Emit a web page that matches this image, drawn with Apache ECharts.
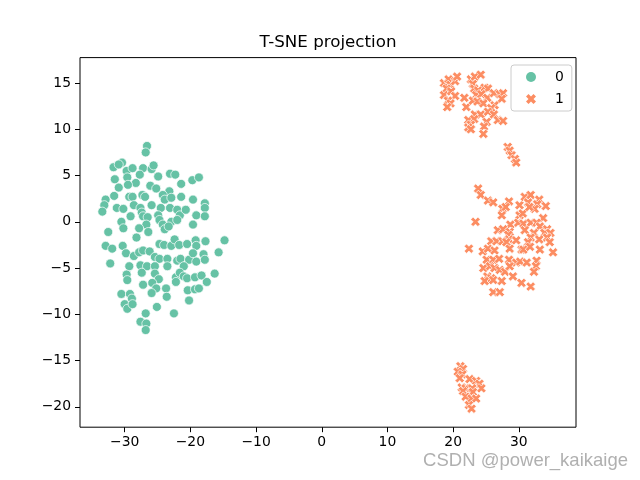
<!DOCTYPE html>
<html>
<head>
<meta charset="utf-8">
<script src="https://cdn.jsdelivr.net/npm/echarts@6/dist/echarts.min.js"></script>
<style>html,body{margin:0;padding:0;background:#fff;}#c{width:640px;height:480px;}</style>
</head>
<body>
<div id="c"></div>
<script>
const titleText = 'T-SNE projection';
const labels = ['0', '1'];
const xTicks = [-30, -20, -10, 0, 10, 20, 30];
const yTicks = [-20, -15, -10, -5, 0, 5, 10, 15];

const class0 = [
[-26.6,8.2],[-26.8,7.5],[-31.7,5.9],[-30.4,6.4],[-30.9,6.2],[-29.7,5.5],[-28.8,5.8],[-27.2,5.8],[-27.7,5.1],[-25.9,5.7],
[-25.6,6.1],[-31.5,4.6],[-29.6,4.8],[-28.3,4.2],[-24.9,4.9],[-23.1,5.2],[-22.3,5.1],[-19.7,4.5],[-18.7,4.8],[-30.9,3.7],
[-29.5,4.0],[-26.1,3.9],[-25.2,3.6],[-23.2,3.3],[-21.4,4.1],[-31.6,2.8],[-29.3,2.7],[-28.8,2.7],[-27.3,2.9],[-26.9,2.7],
[-24.2,2.9],[-23.9,2.4],[-22.9,2.6],[-21.4,2.7],[-19.6,2.4],[-17.8,2.0],[-32.9,2.4],[-33.1,1.8],[-33.4,1.1],[-31.2,1.5],
[-30.2,1.4],[-28.6,1.8],[-27.6,1.5],[-27.4,1.0],[-25.9,1.8],[-24.5,1.5],[-23.1,1.5],[-22.0,1.3],[-21.6,0.7],[-20.7,1.3],
[-19.1,0.7],[-17.8,1.5],[-17.8,0.6],[-30.5,0.0],[-29.1,0.6],[-27.2,0.6],[-26.5,0.5],[-24.9,0.7],[-24.7,0.2],[-26.7,-0.3],
[-24.2,-0.3],[-22.9,0.0],[-22.0,0.2],[-19.6,-0.3],[-32.5,-1.1],[-30.2,-0.7],[-27.8,-0.7],[-26.4,-1.1],[-23.9,-0.8],[-23.3,-0.5],
[-32.9,-2.6],[-31.9,-2.9],[-30.3,-2.6],[-28.2,-1.7],[-24.7,-2.4],[-24.0,-2.5],[-22.9,-2.6],[-22.4,-1.9],[-21.7,-2.5],[-20.5,-2.4],
[-19.2,-2.0],[-19.1,-2.6],[-17.7,-2.1],[-14.8,-2.0],[-29.8,-3.4],[-28.6,-3.7],[-27.8,-3.3],[-27.2,-3.1],[-26.2,-3.2],[-25.4,-3.8],
[-24.7,-4.0],[-23.5,-4.0],[-22.0,-4.2],[-21.5,-4.0],[-20.2,-4.1],[-19.6,-3.4],[-19.1,-4.3],[-18.0,-3.5],[-17.8,-4.1],[-15.7,-3.3],
[-32.2,-4.5],[-29.3,-4.8],[-27.6,-4.7],[-26.6,-4.8],[-25.4,-4.8],[-23.5,-4.8],[-21.0,-4.8],[-29.7,-5.7],[-27.4,-5.5],[-25.4,-5.6],
[-24.8,-6.2],[-22.2,-6.0],[-21.6,-5.5],[-21.0,-5.9],[-20.5,-6.1],[-19.3,-6.0],[-18.3,-5.8],[-17.5,-6.5],[-16.3,-5.6],[-29.6,-6.3],
[-27.2,-6.8],[-25.8,-6.6],[-25.2,-7.2],[-23.7,-7.2],[-22.2,-6.5],[-30.5,-7.8],[-29.2,-7.8],[-28.9,-8.3],[-25.9,-7.7],[-23.6,-8.1],
[-20.4,-7.4],[-19.3,-7.3],[-18.7,-7.2],[-20.2,-8.5],[-30.0,-8.9],[-29.6,-9.4],[-28.8,-8.9],[-25.1,-9.2],[-22.5,-9.9],[-26.8,-9.9],
[-27.6,-10.8],[-26.7,-11.0],[-26.8,-11.7]
];

const class1 = [
[18.6,15.0],[19.3,15.4],[19.6,14.8],[20.3,15.2],[20.6,15.7],[19.0,14.4],[18.6,13.7],[19.7,14.1],[20.3,13.6],[19.2,13.1],
[19.6,12.8],[19.1,12.4],[21.7,13.4],[22.0,12.4],[22.7,15.4],[23.3,15.7],[24.2,15.9],[23.0,14.9],[23.2,14.4],[23.8,14.2],
[24.8,14.5],[25.3,14.4],[23.5,13.7],[24.3,13.8],[25.2,13.4],[26.2,13.9],[27.1,13.8],[27.6,13.9],[27.4,13.3],[23.0,13.1],
[23.7,13.0],[24.6,12.8],[26.3,12.6],[25.8,12.3],[23.3,11.6],[24.2,11.6],[25.3,11.9],[26.2,11.6],[22.3,11.0],[23.2,11.1],
[22.7,10.5],[25.1,10.8],[24.7,10.3],[26.8,11.0],[27.6,10.9],[22.3,10.2],[22.7,10.0],[24.6,9.5],[28.3,8.1],[28.6,7.7],
[28.9,7.2],[29.4,6.8],[29.6,6.4],
[23.8,3.6],[24.2,2.9],[25.3,2.3],[26.1,2.1],[28.5,2.2],[30.1,1.8],[30.9,2.7],[31.8,2.9],[33.1,2.4],[32.8,1.9],
[34.1,1.7],[31.4,2.1],[27.5,1.4],[28.0,1.6],[27.4,0.7],[30.1,0.7],[30.6,0.9],[32.4,1.4],[31.6,1.6],[33.7,0.4],
[23.4,0.0],[28.7,-0.3],[29.9,-0.1],[30.7,-0.2],[31.8,-0.1],[32.7,-0.1],[33.2,-0.5],[34.3,-0.8],[26.8,-0.9],[27.6,-0.8],
[28.6,-1.1],[30.9,-0.9],[28.4,-1.4],[32.3,-1.2],[33.9,-1.2],[34.8,-1.2],[28.5,-1.9],[31.8,-1.7],[33.1,-1.9],[34.3,-1.7],
[25.8,-2.1],[26.6,-2.1],[27.5,-2.1],[28.1,-2.2],[29.6,-2.0],[31.4,-2.2],[34.7,-2.2],[22.4,-2.9],[24.5,-3.2],[25.3,-2.9],
[26.3,-3.1],[28.6,-2.9],[30.4,-3.0],[30.7,-3.0],[31.7,-2.7],[33.2,-3.0],[35.2,-3.3],[25.1,-4.1],[26.1,-4.1],[27.0,-4.0],
[28.5,-4.1],[29.6,-4.4],[30.2,-4.3],[31.2,-4.4],[32.7,-4.2],[32.6,-4.8],[24.6,-5.0],[25.6,-4.8],[26.3,-5.0],[27.1,-5.2],
[27.9,-5.4],[28.6,-4.8],[32.3,-5.4],[25.2,-5.9],[25.8,-6.1],[24.8,-6.4],[26.1,-6.3],[27.4,-6.4],[29.1,-5.9],[30.4,-6.6],
[31.8,-7.0],[26.1,-7.6],[27.1,-7.6],
[21.1,-15.6],[21.5,-15.9],[20.7,-16.2],[21.4,-16.5],[21.0,-16.9],[22.5,-17.0],[23.5,-17.2],[24.0,-17.5],[21.3,-17.9],[21.9,-18.0],
[21.5,-18.3],[22.9,-18.0],[24.3,-18.0],[23.0,-18.4],[21.9,-18.9],[22.8,-19.1],[23.5,-19.1],[22.4,-19.8],[22.8,-20.2]
];

const colors = ['#66c2a5', '#fc8d62'];
const xSymbol = 'path://M2.5,0 L5,2.5 L7.5,0 L10,2.5 L7.5,5 L10,7.5 L7.5,10 L5,7.5 L2.5,10 L0,7.5 L2.5,5 L0,2.5 Z';
const fontMain = 'DejaVu Sans';
const fmt = v => String(v).replace('-', '\u2212');

const chart = echarts.init(document.getElementById('c'), null, {renderer: 'canvas'});
chart.setOption({
  animation: false,
  backgroundColor: '#fff',
  graphic: [
    {type: 'text', x: 328, y: 43, style: {text: titleText, textAlign: 'center', textVerticalAlign: 'middle', font: '16.7px "DejaVu Sans"', fill: '#000'}},
    {type: 'text', x: 628, y: 461, style: {text: 'CSDN @power_kaikaige', textAlign: 'right', textVerticalAlign: 'middle', font: '18.5px "Liberation Sans Narrow", "Liberation Sans", sans-serif', fill: '#b0b0b0'}}
  ],
  grid: {left: 80, right: 64, top: 57.6, bottom: 52.8, show: true, borderColor: '#000', borderWidth: 1, backgroundColor: 'transparent'},
  legend: {
    orient: 'vertical', left: 511, top: 65,
    padding: [5, 8, 5, 15], itemGap: 8, itemWidth: 10, itemHeight: 10,
    borderColor: '#cccccc', borderWidth: 1, borderRadius: 3, backgroundColor: 'rgba(255,255,255,0.8)',
    itemStyle: {borderWidth: 0},
    textStyle: {fontFamily: fontMain, fontSize: 13.9, color: '#000', padding: [0, 0, 0, 14]},
    data: [{name: labels[0], icon: 'circle'}, {name: labels[1], icon: xSymbol}]
  },
  xAxis: {
    type: 'value', min: -36.8, max: 38.7,
    axisLine: {show: false, onZero: false},
    splitLine: {show: false},
    axisTick: {show: true, length: 5, lineStyle: {color: '#000'}, customValues: xTicks},
    axisLabel: {customValues: xTicks, formatter: fmt, fontFamily: fontMain, fontSize: 13.9, color: '#000', margin: 8}
  },
  yAxis: {
    type: 'value', min: -22.2, max: 17.75,
    axisLine: {show: false, onZero: false},
    splitLine: {show: false},
    axisTick: {show: true, length: 5, lineStyle: {color: '#000'}, customValues: yTicks},
    axisLabel: {customValues: yTicks, formatter: fmt, fontFamily: fontMain, fontSize: 13.9, color: '#000', margin: 9}
  },
  series: [
    {name: labels[0], type: 'scatter', data: class0, symbol: 'circle', symbolSize: 9,
     itemStyle: {color: colors[0], borderColor: '#fff', borderWidth: 0.7, opacity: 1}},
    {name: labels[1], type: 'scatter', data: class1, symbol: xSymbol, symbolSize: 9.5,
     itemStyle: {color: colors[1], borderColor: '#fff', borderWidth: 0.7, opacity: 1}}
  ]
});
</script>
</body>
</html>
